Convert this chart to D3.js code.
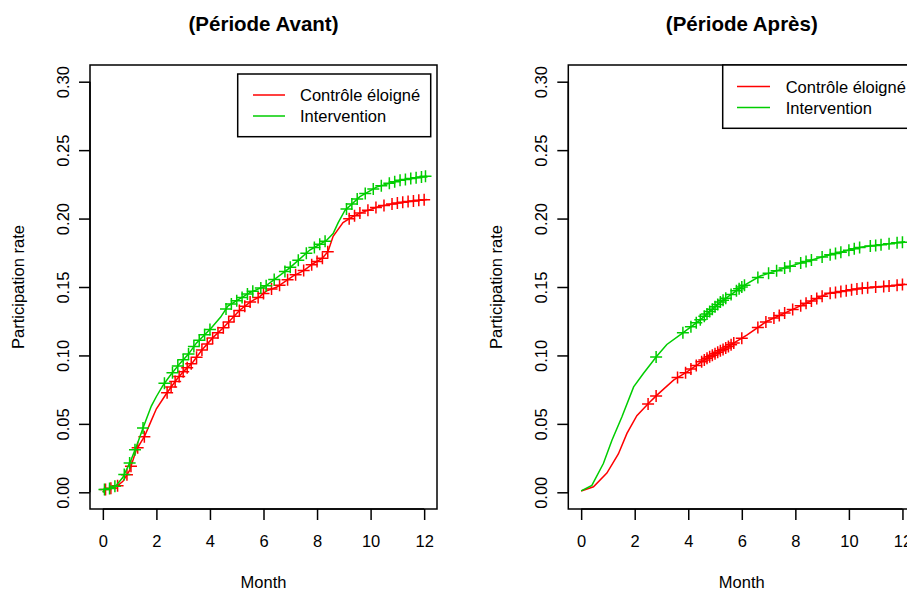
<!DOCTYPE html>
<html>
<head>
<meta charset="utf-8">
<script src="https://cdn.jsdelivr.net/npm/d3@7"></script>
<style>
  body { margin: 0; background: #fff; }
  svg { display: block; font-family: "Liberation Sans", Arial, Helvetica, sans-serif; }
</style>
</head>
<body>
<svg id="chart" width="907" height="590"></svg>
<script>
// ---------- DATA ----------
const seriesNames = ["Contrôle éloigné", "Intervention"];
const panelTitles = ["(Période Avant)", "(Période Après)"];
const xTicks = [0, 2, 4, 6, 8, 10, 12];
const yTicks = [0.00, 0.05, 0.10, 0.15, 0.20, 0.25, 0.30];
const yTickLabels = ["0.00", "0.05", "0.10", "0.15", "0.20", "0.25", "0.30"];

// Période Avant – Contrôle éloigné
const avantCtrlMonth = [0, 0.1, 0.3, 0.5, 0.75, 1.0, 1.25, 1.56, 1.8, 2.0, 2.37, 2.74, 3.0, 3.36, 3.7, 4.11, 4.49, 5.11, 5.5, 5.86, 6.1, 6.5, 7.1, 7.5, 7.85, 8.2, 8.41, 8.6, 8.97, 9.3, 9.6, 10.34, 11.2, 12.1];
const avantCtrlRate  = [0, 0.002, 0.003, 0.004, 0.008, 0.016, 0.031, 0.041, 0.052, 0.061, 0.072, 0.082, 0.088, 0.095, 0.104, 0.113, 0.120, 0.133, 0.139, 0.143, 0.147, 0.150, 0.158, 0.162, 0.167, 0.171, 0.176, 0.187, 0.197, 0.201, 0.204, 0.209, 0.212, 0.214];
const avantCtrlCensor = [0.1, 0.3, 0.55, 0.9, 1.05, 1.3, 1.55, 2.4, 2.55, 2.7, 2.85, 3.0, 3.15, 3.3, 3.5, 3.7, 3.9, 4.1, 4.3, 4.5, 4.7, 4.9, 5.1, 5.3, 5.5, 5.8, 6.0, 6.3, 6.6, 6.9, 7.2, 7.5, 7.8, 8.0, 8.2, 8.4, 9.2, 9.4, 9.6, 9.9, 10.2, 10.5, 10.8, 11.0, 11.2, 11.4, 11.6, 11.8, 12.0];

// Période Avant – Intervention
const avantIntMonth = [0, 0.06, 0.3, 0.5, 0.75, 1.06, 1.3, 1.5, 1.81, 2.0, 2.24, 2.5, 2.87, 3.2, 3.49, 4.05, 4.4, 4.67, 5.0, 5.5, 5.86, 6.1, 6.98, 7.73, 8.35, 8.6, 8.79, 9.04, 9.6, 10.22, 11.09, 12.1];
const avantIntRate  = [0, 0.002, 0.003, 0.005, 0.011, 0.024, 0.036, 0.047, 0.063, 0.070, 0.078, 0.085, 0.094, 0.101, 0.109, 0.120, 0.128, 0.136, 0.140, 0.146, 0.149, 0.151, 0.164, 0.177, 0.184, 0.189, 0.197, 0.206, 0.216, 0.223, 0.228, 0.231];
const avantIntCensor = [0.06, 0.25, 0.45, 0.8, 1.0, 1.2, 1.5, 2.3, 2.6, 2.8, 3.0, 3.2, 3.4, 3.6, 3.8, 4.0, 4.6, 4.8, 5.0, 5.2, 5.4, 5.6, 5.9, 6.1, 6.4, 6.8, 7.0, 7.3, 7.6, 7.9, 8.1, 8.3, 9.1, 9.3, 9.5, 9.8, 10.1, 10.4, 10.7, 10.9, 11.1, 11.3, 11.5, 11.7, 11.9, 12.05];

// Période Après – Contrôle éloigné
const apresCtrlMonth = [0, 0.46, 0.96, 1.39, 1.71, 2.08, 2.52, 2.83, 3.45, 3.95, 4.7, 5.45, 6.2, 6.94, 7.94, 9.19, 10.43, 11.67, 12.1];
const apresCtrlRate  = [0.001, 0.004, 0.014, 0.028, 0.043, 0.056, 0.065, 0.071, 0.082, 0.088, 0.098, 0.106, 0.115, 0.125, 0.134, 0.145, 0.149, 0.151, 0.152];
const apresCtrlCensor = [2.5, 2.8, 3.6, 3.9, 4.1, 4.3, 4.5, 4.6, 4.7, 4.8, 4.9, 5.0, 5.1, 5.2, 5.3, 5.4, 5.5, 5.6, 5.7, 6.0, 6.6, 6.9, 7.2, 7.4, 7.6, 7.9, 8.2, 8.4, 8.6, 8.8, 9.0, 9.3, 9.5, 9.7, 9.9, 10.1, 10.3, 10.5, 10.7, 11.0, 11.3, 11.5, 11.8, 12.0];

// Période Après – Intervention
const apresIntMonth = [0, 0.4, 0.83, 1.15, 1.52, 1.96, 2.33, 2.83, 3.2, 3.76, 4.45, 5.2, 6.07, 6.69, 7.94, 9.19, 10.43, 12.1];
const apresIntRate  = [0.001, 0.005, 0.021, 0.038, 0.055, 0.077, 0.087, 0.0996, 0.108, 0.116, 0.126, 0.139, 0.151, 0.158, 0.166, 0.173, 0.179, 0.183];
const apresIntCensor = [2.8, 3.8, 4.1, 4.3, 4.45, 4.6, 4.7, 4.8, 4.9, 5.0, 5.1, 5.2, 5.3, 5.4, 5.6, 5.8, 5.9, 6.0, 6.1, 6.6, 7.0, 7.3, 7.6, 7.8, 8.2, 8.4, 8.6, 9.0, 9.3, 9.5, 9.7, 10.0, 10.2, 10.4, 10.8, 11.0, 11.2, 11.5, 11.8, 12.0];

// ---------- STYLE / LAYOUT ----------
const colors = ["#FF0000", "#00CD00"];
const fontSize = 16.5;
const panels = [
  { left: 90, top: 65, width: 347, height: 444, title: panelTitles[0],
    legend: { x: 237.7, y: 74, w: 193, h: 62.7, lineX1: 253, lineX2: 285, textX: 300, rows: [95, 116] },
    series: [
      { month: avantCtrlMonth, rate: avantCtrlRate, censor: avantCtrlCensor },
      { month: avantIntMonth, rate: avantIntRate, censor: avantIntCensor } ] },
  { left: 568.3, top: 65, width: 347, height: 444, title: panelTitles[1],
    legend: { x: 722.7, y: 65, w: 193, h: 63.3, lineX1: 737, lineX2: 770, textX: 785.7, rows: [86.5, 107.5] },
    series: [
      { month: apresCtrlMonth, rate: apresCtrlRate, censor: apresCtrlCensor },
      { month: apresIntMonth, rate: apresIntRate, censor: apresIntCensor } ] }
];

const svg = d3.select("#chart");

panels.forEach(p => {
  const x = d3.scaleLinear().domain([-0.48, 12.48]).range([p.left, p.left + p.width]);
  const y = d3.scaleLinear().domain([-0.0122, 0.3122]).range([p.top + p.height, p.top]);
  const g = svg.append("g");

  // curves
  p.series.forEach((s, i) => {
    const pts = s.month.map((m, k) => [m, s.rate[k]]);
    const line = d3.line().x(d => x(d[0])).y(d => y(d[1]));
    g.append("path").attr("d", line(pts))
      .attr("fill", "none").attr("stroke", colors[i]).attr("stroke-width", 1.5);
    // censor marks placed on the curve
    const at = t => {
      const j = d3.bisectRight(s.month, t);
      if (j <= 0) return s.rate[0];
      if (j >= s.month.length) return s.rate[s.rate.length - 1];
      const m0 = s.month[j - 1], m1 = s.month[j];
      return s.rate[j - 1] + (s.rate[j] - s.rate[j - 1]) * (t - m0) / (m1 - m0);
    };
    const sz = 6;
    s.censor.forEach(t => {
      const cx = x(t), cy = y(at(t));
      g.append("path")
        .attr("d", `M${cx - sz},${cy}H${cx + sz}M${cx},${cy - sz}V${cy + sz}`)
        .attr("stroke", colors[i]).attr("stroke-width", 1.5).attr("fill", "none");
    });
  });

  // box
  g.append("rect").attr("x", p.left).attr("y", p.top).attr("width", p.width).attr("height", p.height)
    .attr("fill", "none").attr("stroke", "#000").attr("stroke-width", 1.5);

  // x axis
  const xa = g.append("g").attr("transform", `translate(0,${p.top + p.height})`)
    .call(d3.axisBottom(x).tickValues(xTicks).tickSize(11).tickSizeOuter(0).tickFormat(d3.format("d")));
  xa.select(".domain").attr("d", `M${x(xTicks[0])},0H${x(xTicks[xTicks.length - 1])}`).attr("stroke-width", 1.5);
  xa.selectAll(".tick line").attr("stroke-width", 1.5);
  xa.selectAll(".tick text").attr("font-size", fontSize).attr("font-family", "Liberation Sans, Arial, sans-serif")
    .attr("fill", "#000").attr("y", 0).attr("dy", 0)
    .attr("transform", "translate(0,38)");

  // y axis
  const ya = g.append("g").attr("transform", `translate(${p.left},0)`)
    .call(d3.axisLeft(y).tickValues(yTicks).tickSize(11).tickSizeOuter(0)
      .tickFormat((d, i) => yTickLabels[i]));
  ya.select(".domain").attr("d", `M0,${y(yTicks[0])}V${y(yTicks[yTicks.length - 1])}`).attr("stroke-width", 1.5);
  ya.selectAll(".tick line").attr("stroke-width", 1.5);
  ya.selectAll(".tick text").attr("font-size", fontSize).attr("font-family", "Liberation Sans, Arial, sans-serif")
    .attr("fill", "#000").attr("x", 0).attr("dy", 0)
    .attr("text-anchor", "middle")
    .attr("transform", "translate(-21,0) rotate(-90)");

  // axis titles
  g.append("text").attr("x", p.left + p.width / 2).attr("y", 588)
    .attr("text-anchor", "middle").attr("font-size", fontSize).text("Month");
  g.append("text").attr("transform", `translate(${p.left - 66},${p.top + p.height / 2}) rotate(-90)`)
    .attr("text-anchor", "middle").attr("font-size", fontSize).text("Participation rate");

  // title
  g.append("text").attr("x", p.left + p.width / 2).attr("y", 31)
    .attr("text-anchor", "middle").attr("font-size", 20.5).attr("font-weight", "bold").text(p.title);

  // legend
  const L = p.legend;
  g.append("rect").attr("x", L.x).attr("y", L.y).attr("width", L.w).attr("height", L.h)
    .attr("fill", "#fff").attr("stroke", "#000").attr("stroke-width", 1.5);
  seriesNames.forEach((name, i) => {
    g.append("line").attr("x1", L.lineX1).attr("x2", L.lineX2).attr("y1", L.rows[i]).attr("y2", L.rows[i])
      .attr("stroke", colors[i]).attr("stroke-width", 1.5);
    g.append("text").attr("x", L.textX).attr("y", L.rows[i] + 6).attr("font-size", fontSize).text(name);
  });
});
</script>
</body>
</html>
